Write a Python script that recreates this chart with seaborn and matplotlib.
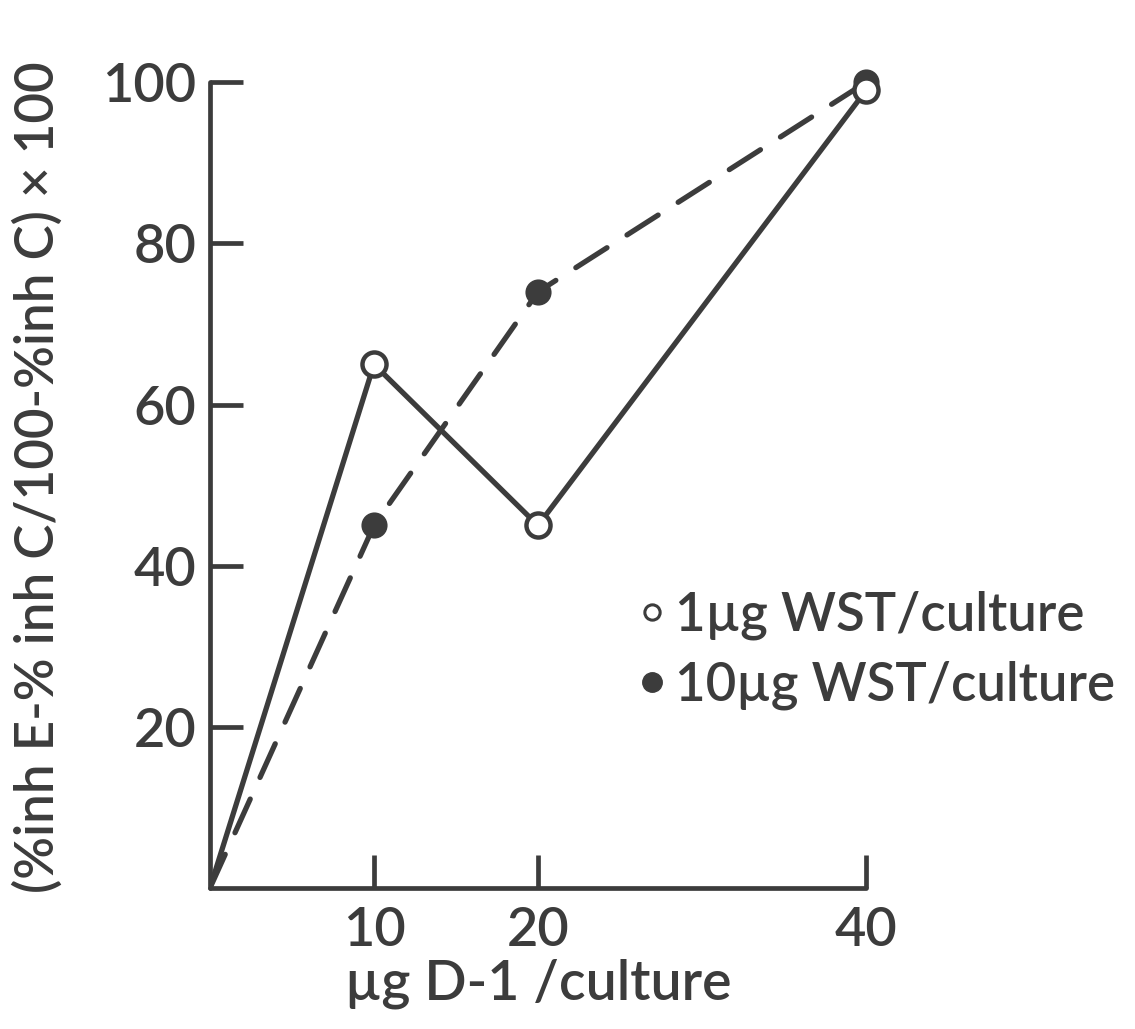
import matplotlib
matplotlib.use("Agg")
import matplotlib.pyplot as plt
from matplotlib.lines import Line2D
import seaborn as sns
import pandas as pd

# D-1 dose per culture (µg)
dose = [0, 10, 20, 40]
# response at 1 µg WST/culture (open circles, solid line)
wst_1 = [0, 65, 45, 99]
# response at 10 µg WST/culture (filled circles, dashed line)
wst_10 = [0, 45, 74, 100]

x_ticks = [10, 20, 40]
y_ticks = [20, 40, 60, 80, 100]
legend_labels = ["1µg WST/culture", "10µg WST/culture"]

ink = "#3c3c3c"

sns.set_theme(style="white")
plt.rcParams["font.family"] = ["Lato", "DejaVu Sans"]
plt.rcParams["font.weight"] = "semibold"
plt.rcParams["axes.labelweight"] = "semibold"

fig = plt.figure(figsize=(11.35, 10.29), dpi=100)
ax = fig.add_axes([0.185, 0.137, 0.578, 0.783])

df1 = pd.DataFrame({"dose": dose, "value": wst_1})
df10 = pd.DataFrame({"dose": dose, "value": wst_10})

sns.lineplot(data=df10, x="dose", y="value", ax=ax, color=ink, linewidth=3.8,
             zorder=2)
ax.lines[-1].set_linestyle((0, (7, 4.5)))
ax.lines[-1].set_dash_capstyle("round")
sns.lineplot(data=df1, x="dose", y="value", ax=ax, color=ink, linewidth=3.8,
             solid_capstyle="round", solid_joinstyle="round", zorder=3)

# point markers (skip the origin)
sns.scatterplot(x=dose[1:], y=wst_10[1:], ax=ax, s=300, color=ink,
                edgecolor=ink, linewidth=1.5, zorder=4, clip_on=False)
sns.scatterplot(x=dose[1:], y=wst_1[1:], ax=ax, s=300, color="white",
                edgecolor=ink, linewidth=3.2, zorder=5, clip_on=False)

ax.set_xlim(0, 40)
ax.set_ylim(0, 100)
ax.set_xticks(x_ticks)
ax.set_yticks(y_ticks)
ax.set_xticklabels([str(t) for t in x_ticks])
ax.set_yticklabels([str(t) for t in y_ticks])

for side in ["top", "right"]:
    ax.spines[side].set_visible(False)
for side in ["left", "bottom"]:
    ax.spines[side].set_color(ink)
    ax.spines[side].set_linewidth(3.4)
    ax.spines[side].set_capstyle("round")

ax.tick_params(axis="both", direction="in", length=24, width=3.4, color=ink,
               labelcolor=ink, labelsize=39)
ax.tick_params(axis="x", pad=13)
ax.tick_params(axis="y", pad=10)
ax.tick_params(left=True, bottom=True)

ax.set_xlabel("µg D-1 /culture", fontsize=40, color=ink)
ax.xaxis.set_label_coords(0.5, -0.087)
ax.set_ylabel("(%inh E-% inh C/100-%inh C) × 100", fontsize=38, color=ink)
ax.yaxis.set_label_coords(-0.225, 0.51)

handles = [
    Line2D([], [], linestyle="none", marker="o", markersize=11,
           markerfacecolor="white", markeredgecolor=ink, markeredgewidth=2.2),
    Line2D([], [], linestyle="none", marker="o", markersize=14,
           markerfacecolor=ink, markeredgecolor=ink),
]
leg = fig.legend(handles, legend_labels, loc="upper left",
                 bbox_to_anchor=(0.537, 0.452), frameon=False, fontsize=38,
                 handlelength=0.6, handletextpad=0.15, labelspacing=0.4,
                 borderpad=0)
for t in leg.get_texts():
    t.set_color(ink)

fig.savefig("out.png", dpi=100, facecolor="white")
